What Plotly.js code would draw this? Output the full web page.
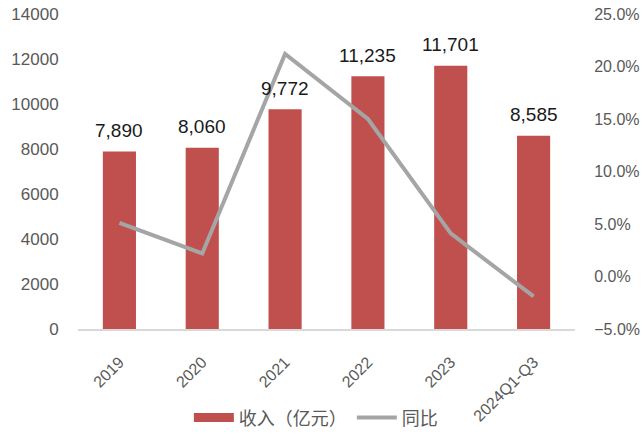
<!DOCTYPE html>
<html>
<head>
<meta charset="utf-8">
<script src="https://cdn.plot.ly/plotly-3.0.1.min.js"></script>
<style>
  html, body { margin: 0; padding: 0; background: #fff; }
  #chart { width: 642px; height: 446px; }
</style>
</head>
<body>
<div id="chart"></div>
<script>
const years = ['2019', '2020', '2021', '2022', '2023', '2024Q1-Q3'];
const revenue = [7890, 8060, 9772, 11235, 11701, 8585];
const growth = [0.051, 0.022, 0.212, 0.150, 0.041, -0.019];

const barColor = '#C0504D';
const lineColor = '#A5A5A5';
const fontFam = '"Liberation Sans", Arial, "Noto Sans CJK SC", sans-serif';

const bars = {
  type: 'bar',
  x: years,
  y: revenue,
  name: '收入（亿元）',
  marker: { color: barColor },
  showlegend: false,
  hoverinfo: 'x+y'
};

// stand-in so the legend shows a wide red bar like the original
const barKey = {
  type: 'scatter',
  mode: 'lines',
  x: [years[0]],
  y: [null],
  name: '收入（亿元）',
  line: { color: barColor, width: 9 }
};

const line = {
  type: 'scatter',
  mode: 'lines',
  x: years,
  y: growth,
  name: '同比',
  yaxis: 'y2',
  line: { color: lineColor, width: 4 }
};

// value labels sit a bit higher above the bars than plotly's own outside text
// (x given as category index)
const labels = revenue.map((v, i) => ({
  x: i,
  y: v,
  xref: 'x',
  yref: 'y',
  text: v.toLocaleString('en-US'),
  showarrow: false,
  yanchor: 'middle',
  yshift: 21,
  font: { size: 19, color: '#1a1a1a', family: fontFam }
}));

const layout = {
  width: 642,
  height: 446,
  margin: { l: 78, r: 67, t: 14, b: 117 },
  paper_bgcolor: '#fff',
  plot_bgcolor: '#fff',
  font: { family: fontFam, size: 16, color: '#595959' },
  bargap: 0.6,
  showlegend: true,
  annotations: labels,
  legend: {
    orientation: 'h',
    xref: 'container',
    yref: 'container',
    x: 0.492,
    xanchor: 'center',
    y: 0.063,
    yanchor: 'middle',
    itemwidth: 40,
    font: { size: 18, color: '#595959' }
  },
  xaxis: {
    type: 'category',
    categoryarray: years,
    automargin: false,
    tickangle: -45,
    showline: true,
    linecolor: '#D9D9D9',
    linewidth: 1.5,
    ticks: 'outside',
    ticklen: 16,
    tickcolor: 'rgba(0,0,0,0)',
    showgrid: false,
    tickfont: { size: 16, color: '#595959' }
  },
  yaxis: {
    automargin: false,
    range: [0, 14000],
    dtick: 2000,
    showgrid: false,
    zeroline: false,
    showline: false,
    ticks: 'outside',
    ticklen: 15,
    tickcolor: 'rgba(0,0,0,0)',
    tickformat: 'd',
    tickfont: { size: 17, color: '#595959' }
  },
  yaxis2: {
    automargin: false,
    overlaying: 'y',
    side: 'right',
    range: [-0.05, 0.25],
    dtick: 0.05,
    tickformat: '.1%',
    showgrid: false,
    zeroline: false,
    showline: false,
    ticks: 'outside',
    ticklen: 15,
    tickcolor: 'rgba(0,0,0,0)',
    tickfont: { size: 16, color: '#595959' }
  }
};

Plotly.newPlot('chart', [bars, barKey, line], layout, { displayModeBar: false, staticPlot: true });
</script>
</body>
</html>
